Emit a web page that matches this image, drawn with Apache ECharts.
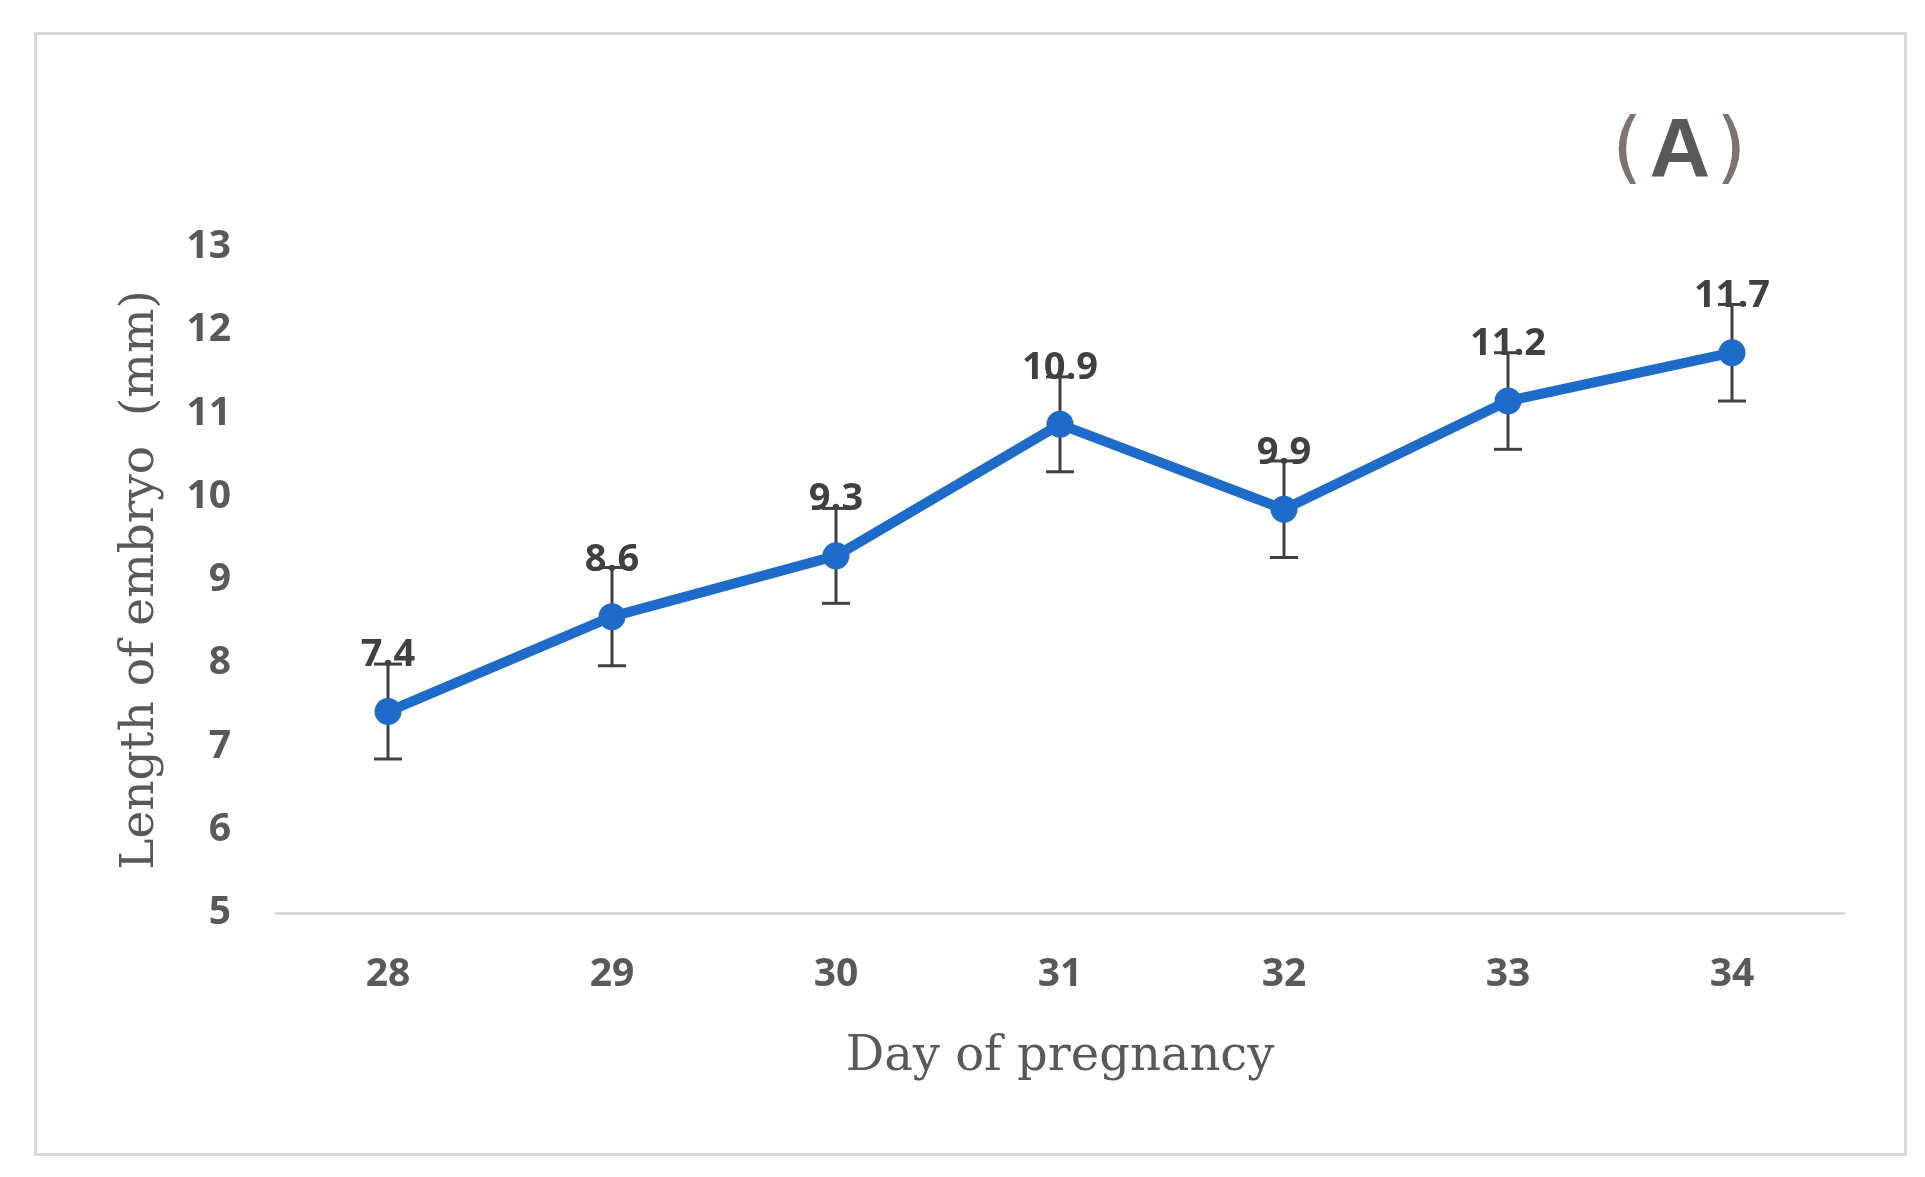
<!DOCTYPE html>
<html>
<head>
<meta charset="utf-8">
<script src="https://cdn.jsdelivr.net/npm/echarts@6/dist/echarts.min.js"></script>
<style>
html,body{margin:0;padding:0;background:#fff;}
#c{width:1925px;height:1177px;}
</style>
</head>
<body>
<div id="c"></div>
<script>
var days = ['28','29','30','31','32','33','34'];
var lengths = [7.42, 8.56, 9.29, 10.87, 9.85, 11.15, 11.73];
var lengthLabels = ['7.4','8.6','9.3','10.9','9.9','11.2','11.7'];
var errors = [0.57, 0.59, 0.57, 0.57, 0.58, 0.58, 0.58];
var yMin = 5, yMax = 13, yStep = 1;

var errData = lengths.map(function(v,i){ return [i, v - errors[i], v + errors[i]]; });

var chart = echarts.init(document.getElementById('c'));
chart.setOption({
  backgroundColor:'#fff',
  animation:false,
  graphic:[
    {type:'rect', left:33, top:31, shape:{width:1870, height:1121}, style:{fill:'none', stroke:'#d9d9d9', lineWidth:3}, z:-1},
    {type:'text', left:1612, top:112, style:{
      rich:{p:{fontFamily:'DejaVu Sans', fontSize:78, fill:'#7f7270', fontWeight:'normal'}, a:{fontFamily:'Liberation Sans', fontSize:84, fontWeight:'bold', fill:'#595959', padding:[0,6,0,7]}},
      text:'{p|(}{a|A}{p|)}'}}
  ],
  grid:{left:276, right:81, top:247, bottom:264},
  xAxis:{
    type:'category', data:days, boundaryGap:true,
    axisLine:{lineStyle:{color:'#d9d9d9', width:3}},
    axisTick:{show:false},
    axisLabel:{margin:42, color:'#595959', fontFamily:'Open Sans', fontWeight:'bold', fontSize:39},
    name:'Day of pregnancy', nameLocation:'middle', nameGap:121,
    nameTextStyle:{fontFamily:'DejaVu Serif', fontSize:48, color:'#595959'}
  },
  yAxis:{
    type:'value', min:yMin, max:yMax, interval:yStep,
    axisLine:{show:false}, axisTick:{show:false}, splitLine:{show:false},
    axisLabel:{margin:45, color:'#595959', fontFamily:'Open Sans', fontWeight:'bold', fontSize:39},
    name:'Length of embryo  (mm)', nameLocation:'middle', nameGap:112, nameRotate:90,
    nameTextStyle:{fontFamily:'DejaVu Serif', fontSize:47, color:'#595959'}
  },
  series:[
    {
      type:'custom', z:1, data:errData,
      renderItem:function(params, api){
        var x = api.value(0);
        var lo = api.coord([x, api.value(1)]);
        var hi = api.coord([x, api.value(2)]);
        var cap = 14;
        var st = {stroke:'#404040', lineWidth:3};
        return {type:'group', children:[
          {type:'line', shape:{x1:lo[0], y1:lo[1], x2:hi[0], y2:hi[1]}, style:st},
          {type:'line', shape:{x1:lo[0]-cap, y1:lo[1], x2:lo[0]+cap, y2:lo[1]}, style:st},
          {type:'line', shape:{x1:hi[0]-cap, y1:hi[1], x2:hi[0]+cap, y2:hi[1]}, style:st}
        ]};
      }
    },
    {
      type:'line', z:5, data:lengths, symbol:'circle', symbolSize:27,
      lineStyle:{color:'#1f6bc9', width:10},
      itemStyle:{color:'#1f6bc9'},
      label:{show:true, position:'top', distance:24, color:'#404040', fontFamily:'Open Sans', fontWeight:'bold', fontSize:38,
        formatter:function(p){ return lengthLabels[p.dataIndex]; }}
    }
  ]
});
</script>
</body>
</html>
